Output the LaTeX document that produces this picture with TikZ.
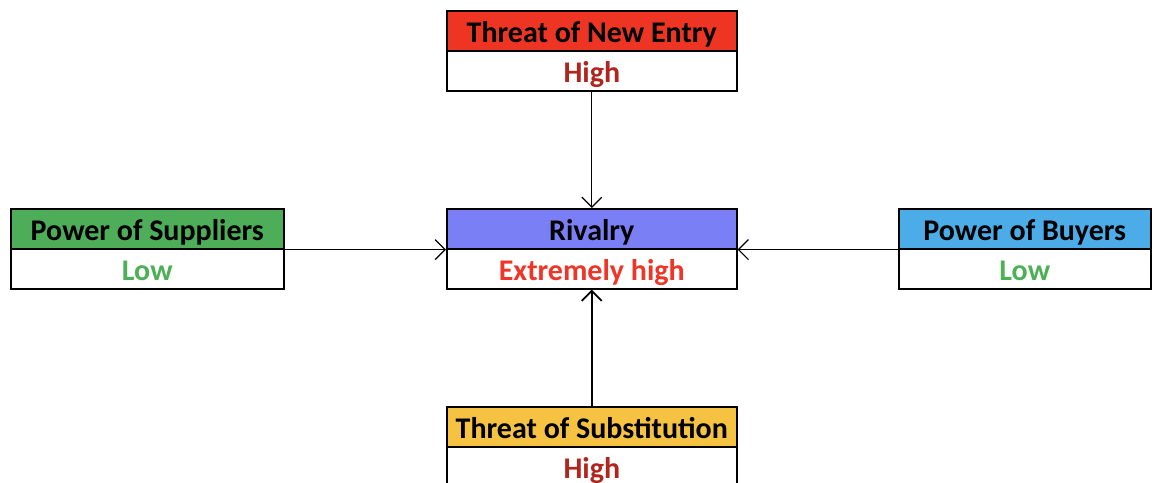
\documentclass[tikz,border=0pt]{standalone}
\usepackage{fontspec}
\setmainfont{Carlito}
\usetikzlibrary{arrows.meta}
\definecolor{entryred}{HTML}{EE3524}
\definecolor{supgreen}{HTML}{4DAD58}
\definecolor{buyblue}{HTML}{4BACE8}
\definecolor{rivblue}{HTML}{7B7FF5}
\definecolor{subyellow}{HTML}{F5C242}
\definecolor{highred}{HTML}{B0261F}
\definecolor{lowgreen}{HTML}{4DB056}
\definecolor{xhighred}{HTML}{EE3528}
\def\high{\textcolor{highred}{High}}
\def\low{\textcolor{lowgreen}{Low}}
\begin{document}
\begin{tikzpicture}[x=0.5pt,y=-0.5pt,
    hdr/.style={draw,line width=0.8pt,minimum height=20pt,inner sep=0pt,
      text height=11.4pt,text depth=0pt,
      font=\bfseries\fontsize{15}{17}\selectfont,anchor=north west},
    val/.style={hdr,fill=white},
    arr/.style={-{Straight Barb[length=5pt,width=10pt]},line width=0.6pt}]
  \useasboundingbox (0,0) rectangle (1154,482);
  % five forces
  \node[hdr,fill=entryred,minimum width=145pt] (entH) at (446,10) {Threat of New Entry};
  \node[val,minimum width=145pt] (entV) at (446,50) {\high};
  \node[hdr,fill=supgreen,minimum width=136.5pt] (supH) at (10,208) {Power of Suppliers};
  \node[val,minimum width=136.5pt] (supV) at (10,248) {\low};
  \node[hdr,fill=rivblue,minimum width=145pt] (rivH) at (446,208) {Rivalry};
  \node[val,minimum width=145pt] (rivV) at (446,248) {\textcolor{xhighred}{Extremely high}};
  \node[hdr,fill=buyblue,minimum width=126pt] (buyH) at (898,208) {Power of Buyers};
  \node[val,minimum width=126pt] (buyV) at (898,248) {\low};
  \node[hdr,fill=subyellow,minimum width=145pt] (subH) at (446,406) {Threat of Substitution};
  \node[val,minimum width=145pt] (subV) at (446,446) {\high};
  % arrows
  \draw[arr] (entV.south) -- (rivH.north);
  \draw[arr] (supH.south east) -- (rivH.south west);
  \draw[arr] (buyH.south west) -- (rivH.south east);
  \draw[arr,line width=0.9pt] (subH.north) -- (rivV.south);
\end{tikzpicture}
\end{document}
